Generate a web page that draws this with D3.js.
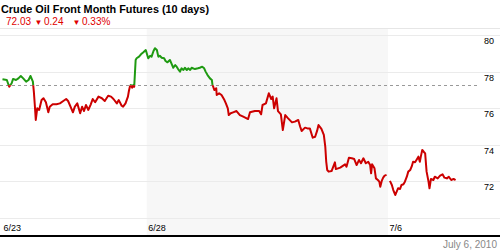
<!DOCTYPE html>
<html>
<head>
<meta charset="utf-8">
<script src="https://cdn.jsdelivr.net/npm/d3@7"></script>
<style>
  body { margin: 0; background: #fff; }
  svg { display: block; font-family: Arial, "Liberation Sans", sans-serif; }
</style>
</head>
<body>
<svg id="chart" width="500" height="250"></svg>
<script>
const title = "Crude Oil Front Month Futures (10 days)";
const lastPrice = "72.03";
const change = "0.24";
const changePct = "0.33%";
const dateLabel = "July 6, 2010";

// trading day boundaries (days since the 6/23 open)
const dayTicks = [
  { label: "6/23", t: 0 },
  { label: "6/28", t: 3 },
  { label: "7/6", t: 8 },
];
const shadedDays = [3, 8];
const yTicks = [80, 78, 76, 74, 72, 70];
const baseline = 77.26;

// [days since open, price]; null marks a break in the line
const prices = [
  [0.01, 77.59], [0.10, 77.55], [0.15, 77.18], [0.20, 77.37], [0.23, 77.61],
  [0.29, 77.55], [0.34, 77.64], [0.39, 77.77], [0.44, 77.64], [0.50, 77.46],
  [0.55, 77.55], [0.59, 77.77], [0.64, 77.46], [0.66, 76.91], [0.68, 76.18],
  [0.70, 75.36], [0.73, 76.0], [0.77, 75.91], [0.82, 76.45], [0.86, 76.55],
  [0.91, 76.33], [0.96, 75.78], [0.99, 76.09], [1.05, 76.22], [1.13, 76.22],
  [1.20, 76.27], [1.27, 76.40], [1.33, 76.51], [1.37, 76.40], [1.42, 76.09],
  [1.47, 75.78], [1.51, 76.09], [1.56, 76.27], [1.62, 75.73], [1.66, 76.09],
  [1.70, 75.85], [1.74, 76.18], [1.79, 75.91], [1.84, 76.22], [1.88, 76.51],
  [1.93, 76.33], [2.00, 76.64], [2.07, 76.55], [2.13, 76.40], [2.20, 76.69],
  [2.26, 76.64], [2.31, 76.51], [2.38, 76.27], [2.42, 76.45], [2.48, 76.14],
  [2.51, 76.09], [2.56, 76.27], [2.61, 76.64], [2.63, 76.95], [2.65, 77.18],
  [2.67, 77.28], [2.70, 77.13], [2.72, 77.28], [2.74, 77.18], [2.77, 78.65],
  [2.79, 78.74], [2.84, 78.83], [2.88, 78.96], [2.93, 79.07], [2.98, 79.19],
  [3.03, 78.74], [3.07, 78.88], [3.10, 78.83], [3.14, 79.14], [3.17, 79.29],
  [3.21, 79.19], [3.24, 78.83], [3.27, 78.88], [3.31, 78.77], [3.36, 78.74],
  [3.39, 78.59], [3.43, 78.52], [3.48, 78.65], [3.52, 78.41], [3.55, 78.22],
  [3.59, 78.37], [3.62, 78.28], [3.65, 78.15], [3.69, 78.01], [3.72, 78.19],
  [3.76, 78.10], [3.79, 78.22], [3.83, 78.10], [3.86, 78.19], [3.90, 78.10],
  [3.93, 78.22], [4.00, 78.15], [4.06, 78.19], [4.10, 78.22], [4.15, 78.28],
  [4.19, 78.19], [4.22, 78.01], [4.26, 77.82], [4.31, 77.64], [4.35, 77.55],
  [4.36, 77.32], [4.40, 77.00], [4.44, 77.10], [4.45, 76.73], [4.50, 76.82],
  [4.55, 76.73], [4.61, 76.45], [4.64, 76.27], [4.68, 76.0], [4.70, 75.63],
  [4.74, 75.73], [4.79, 75.78], [4.86, 75.85], [4.93, 75.63], [5.00, 75.54],
  [5.10, 75.41], [5.14, 75.78], [5.24, 75.85], [5.33, 75.85], [5.37, 75.67],
  [5.40, 76.18], [5.47, 76.27], [5.53, 76.82], [5.58, 76.51], [5.61, 76.64],
  [5.64, 76.0], [5.69, 76.55], [5.72, 75.85], [5.78, 75.67], [5.82, 74.81],
  [5.87, 75.63], [5.93, 75.45], [6.01, 75.23], [6.07, 75.27], [6.14, 75.36],
  [6.18, 74.99], [6.21, 74.76], [6.28, 74.94], [6.33, 74.90], [6.38, 74.90],
  [6.44, 74.39], [6.49, 74.44], [6.53, 74.76], [6.56, 75.08], [6.62, 74.87],
  [6.67, 74.54], [6.70, 73.90], [6.72, 73.07], [6.74, 72.62], [6.77, 72.53],
  [6.83, 72.56], [6.90, 73.04], [6.92, 72.67], [7.01, 72.75], [7.11, 72.93],
  [7.14, 72.80], [7.19, 73.29], [7.25, 73.26], [7.30, 73.22], [7.35, 72.89],
  [7.40, 73.17], [7.44, 72.99], [7.49, 73.26], [7.54, 72.99], [7.59, 73.07],
  [7.63, 72.89], [7.65, 72.44], [7.67, 72.93], [7.72, 72.71], [7.75, 72.16],
  [7.79, 72.07], [7.82, 71.98], [7.84, 71.70], [7.87, 72.02], [7.90, 72.20],
  [7.93, 72.31], [7.97, 72.35], null,
  [8.04, 72.02], [8.08, 71.80], [8.11, 71.52], [8.15, 71.25], [8.18, 71.43],
  [8.21, 71.62], [8.25, 71.58], [8.28, 71.80], [8.32, 71.84], [8.35, 71.98],
  [8.39, 72.25], [8.42, 72.53], [8.46, 72.62], [8.49, 72.80], [8.52, 73.07],
  [8.56, 73.04], [8.59, 73.17], [8.63, 73.35], [8.66, 73.07], [8.68, 73.35],
  [8.71, 73.72], [8.74, 73.62], [8.77, 73.53], [8.80, 72.53], [8.84, 71.98],
  [8.86, 71.62], [8.89, 72.13], [8.94, 72.07], [8.97, 72.25], [9.03, 72.16],
  [9.08, 72.31], [9.13, 72.38], [9.17, 72.20], [9.22, 72.16], [9.26, 72.25],
  [9.31, 72.07], [9.36, 72.13], [9.40, 72.07],
];

const width = 500;
const plotTop = 28;
const axisY = 236;

const svg = d3.select("#chart");

const x = d3.scaleLinear().domain([0, 10]).range([2, 484.5]);
const y = d3.scaleLinear().domain([70, 80]).range([217.8, 35.3]);

// shaded week band
svg.append("rect")
  .attr("x", x(shadedDays[0]))
  .attr("y", plotTop + 1)
  .attr("width", x(shadedDays[1]) - x(shadedDays[0]))
  .attr("height", axisY - plotTop - 1)
  .attr("fill", "#f7f7f7");

// top rule under the header
svg.append("line")
  .attr("x1", 0).attr("x2", width)
  .attr("y1", plotTop + 0.5).attr("y2", plotTop + 0.5)
  .attr("stroke", "#e6e6e6");

// horizontal grid + right labels
const grid = svg.append("g");
grid.selectAll("line")
  .data(yTicks)
  .join("line")
  .attr("x1", 0).attr("x2", width)
  .attr("y1", (d) => Math.round(y(d)) + 0.5)
  .attr("y2", (d) => Math.round(y(d)) + 0.5)
  .attr("stroke", "#ebebeb");
grid.selectAll("text")
  .data(yTicks.filter((d) => d > 70))
  .join("text")
  .attr("x", 484)
  .attr("y", (d) => y(d) + 9)
  .attr("font-size", 9)
  .attr("fill", "#000")
  .text((d) => d);

// reference (dotted) line
svg.append("line")
  .attr("x1", 0).attr("x2", 480)
  .attr("y1", Math.round(y(baseline)) + 0.5)
  .attr("y2", Math.round(y(baseline)) + 0.5)
  .attr("stroke", "#999")
  .attr("stroke-dasharray", "3,3");

// price line, green above the reference and red below
const line = d3.line()
  .defined((d) => d !== null)
  .x((d) => x(d[0]))
  .y((d) => y(d[1]));

const defs = svg.append("defs");
defs.append("clipPath").attr("id", "above")
  .append("rect")
  .attr("x", 0).attr("y", 0)
  .attr("width", width).attr("height", y(baseline));
defs.append("clipPath").attr("id", "below")
  .append("rect")
  .attr("x", 0).attr("y", y(baseline))
  .attr("width", width).attr("height", 250 - y(baseline));

[["above", "#1f9a12"], ["below", "#cc0000"]].forEach(([id, color]) => {
  svg.append("path")
    .datum(prices)
    .attr("clip-path", `url(#${id})`)
    .attr("d", line)
    .attr("fill", "none")
    .attr("stroke", color)
    .attr("stroke-width", 2)
    .attr("stroke-linejoin", "round");
});

// x axis
svg.append("line")
  .attr("x1", 0).attr("x2", width)
  .attr("y1", axisY).attr("y2", axisY)
  .attr("stroke", "#000")
  .attr("stroke-width", 2);
svg.append("g")
  .selectAll("text")
  .data(dayTicks)
  .join("text")
  .attr("x", (d) => x(d.t) + 1.5)
  .attr("y", 231)
  .attr("font-size", 9)
  .attr("fill", "#000")
  .text((d) => d.label);

// header
svg.append("text")
  .attr("x", 1).attr("y", 13)
  .attr("font-size", 11)
  .attr("font-weight", "bold")
  .attr("fill", "#000")
  .attr("textLength", 208)
  .attr("lengthAdjust", "spacingAndGlyphs")
  .text(title);

const quoteParts = [
  { text: lastPrice, x: 6, size: 10 },
  { text: "\u25BC", x: 34.5, size: 8 },
  { text: change, x: 44, size: 10 },
  { text: "\u25BC", x: 72.5, size: 8 },
  { text: changePct, x: 82, size: 10 },
];
svg.append("g")
  .selectAll("text")
  .data(quoteParts)
  .join("text")
  .attr("x", (d) => d.x)
  .attr("y", 24.5)
  .attr("font-size", (d) => d.size)
  .attr("fill", "#e00000")
  .text((d) => d.text);

// date footer
svg.append("text")
  .attr("x", 497).attr("y", 248)
  .attr("text-anchor", "end")
  .attr("font-size", 10)
  .attr("fill", "#888")
  .text(dateLabel);
</script>
</body>
</html>
